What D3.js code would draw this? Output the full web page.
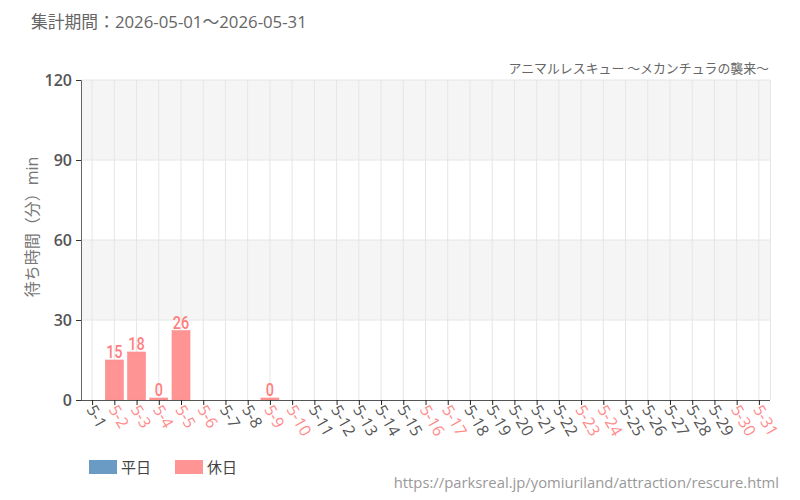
<!DOCTYPE html>
<html><head><meta charset="utf-8">
<script src="https://cdn.jsdelivr.net/npm/d3@7"></script>
<style>body{margin:0;background:#fff}svg{display:block}</style>
</head><body>
<svg id="c" width="800" height="500"></svg>
<script>
const categories = ["5-1","5-2","5-3","5-4","5-5","5-6","5-7","5-8","5-9","5-10","5-11","5-12","5-13","5-14","5-15","5-16","5-17","5-18","5-19","5-20","5-21","5-22","5-23","5-24","5-25","5-26","5-27","5-28","5-29","5-30","5-31"];
const holidays = ["5-2","5-3","5-4","5-5","5-6","5-9","5-10","5-16","5-17","5-23","5-24","5-30","5-31"];
const waitValues = [null,15,18,0,26,null,null,null,0,null,null,null,null,null,null,null,null,null,null,null,null,null,null,null,null,null,null,null,null,null,null];
const yTicks = [0,30,60,90,120];
const legendLabels = ["平日","休日"];

const svg = d3.select("#c");
const m = {l:81, r:30, t:80, b:100};
const x = d3.scaleBand().domain(categories).range([m.l, 770]).paddingInner(0.19).paddingOuter(0.095);
const xc = d3.scalePoint().domain(categories).range([m.l, 770]).padding(0.5);
const y = d3.scaleLinear().domain([0,120]).range([400, 80]);
const isHol = c => holidays.includes(c);
const pink = "#ff9494", blue = "#6a9bc4";

const g = svg.append("g");
for (let i = 0; i < yTicks.length - 1; i++) {
  if (i % 2 === 1) {
    g.append("rect").attr("x", m.l).attr("width", 770 - m.l)
      .attr("y", y(yTicks[i+1])).attr("height", y(yTicks[i]) - y(yTicks[i+1]))
      .attr("fill", "#f5f5f5");
  }
}
g.selectAll(".hg").data(yTicks.slice(1)).join("line")
  .attr("x1", m.l).attr("x2", 770).attr("y1", d => y(d)).attr("y2", d => y(d))
  .attr("stroke", "#e6e6e6");
g.selectAll(".vg").data(categories).join("line")
  .attr("x1", d => xc(d)).attr("x2", d => xc(d)).attr("y1", 80).attr("y2", 400)
  .attr("stroke", "#e6e6e6");
g.append("line").attr("x1", 770.5).attr("x2", 770.5).attr("y1", 80).attr("y2", 400).attr("stroke", "#e6e6e6");

const data = categories.map((c, i) => ({c, v: waitValues[i]})).filter(d => d.v !== null);
svg.selectAll(".bar").data(data).join("rect")
  .attr("x", d => x(d.c)).attr("width", x.bandwidth())
  .attr("y", d => Math.min(y(d.v), 398)).attr("height", d => Math.max(400 - y(d.v), 2))
  .attr("fill", d => isHol(d.c) ? pink : blue)
  .attr("stroke", d => isHol(d.c) ? "#ff8a8a" : "#5a8bb4").attr("stroke-width", 0.6);
svg.selectAll(".bl").data(data).join("text")
  .attr("x", 0).attr("y", 0)
  .attr("text-anchor", "middle")
  .attr("font-family", "Roboto, sans-serif").attr("font-weight", 500)
  .attr("font-size", 18.5).attr("fill", "#ff7f7f")
  .attr("transform", d => `translate(${x(d.c) + x.bandwidth()/2},${Math.min(y(d.v), 398) - 2}) scale(0.78,1)`)
  .text(d => d.v);

const ya = svg.append("g").attr("transform", `translate(${m.l},0)`)
  .call(d3.axisLeft(y).tickValues(yTicks).tickSize(5).tickPadding(4));
ya.select(".domain").attr("stroke", "#666");
ya.selectAll(".tick line").attr("stroke", "#333");
ya.selectAll("text").attr("font-family", "'Open Sans', sans-serif").attr("font-weight", 600)
  .attr("font-size", 16).attr("fill", "#555");

const xa = svg.append("g").attr("transform", "translate(0,400)")
  .call(d3.axisBottom(xc).tickSize(5).tickSizeOuter(0));
xa.select(".domain").attr("stroke", "#555").attr("d", `M${m.l},0.5H770`);
xa.selectAll(".tick line").attr("stroke", "#222");
xa.selectAll("text")
  .attr("font-family", "'Open Sans', sans-serif").attr("font-size", 16)
  .attr("fill", d => isHol(d) ? "#ff8a8a" : "#555")
  .attr("text-anchor", "start").attr("dy", null).attr("y", 0).attr("x", 0)
  .attr("transform", "translate(-3,7) rotate(60)")
  .attr("dominant-baseline", "middle");

svg.append("text").attr("transform", "translate(38,227) rotate(-90)")
  .attr("text-anchor", "middle").attr("font-family", "'Open Sans','Noto Sans CJK JP', sans-serif")
  .attr("font-size", 16).attr("fill", "#777").text("待ち時間（分）min");

svg.append("text").attr("x", 31).attr("y", 28)
  .attr("font-family", "'Open Sans','Noto Sans CJK JP', sans-serif").attr("font-size", 16.8).attr("fill", "#666")
  .text("集計期間：2026-05-01～2026-05-31");
svg.append("text").attr("x", 769).attr("y", 73).attr("text-anchor", "end")
  .attr("font-family", "'Noto Sans CJK JP', sans-serif").attr("font-size", 12.9).attr("fill", "#666")
  .text("アニマルレスキュー ～メカンチュラの襲来～");

const lg = svg.append("g");
const lx = [89, 175];
legendLabels.forEach((t, i) => {
  lg.append("rect").attr("x", lx[i]).attr("y", 460).attr("width", 28).attr("height", 14)
    .attr("fill", i === 0 ? blue : pink);
  lg.append("text").attr("x", lx[i] + 32).attr("y", 473)
    .attr("font-family", "'Noto Sans CJK JP', sans-serif").attr("font-size", 15).attr("fill", "#444").text(t);
});

svg.append("text").attr("x", 779).attr("y", 488).attr("text-anchor", "end")
  .attr("font-family", "'Open Sans', sans-serif").attr("font-size", 14.8).attr("fill", "#999")
  .text("https://parksreal.jp/yomiuriland/attraction/rescure.html");
</script>
</body></html>
